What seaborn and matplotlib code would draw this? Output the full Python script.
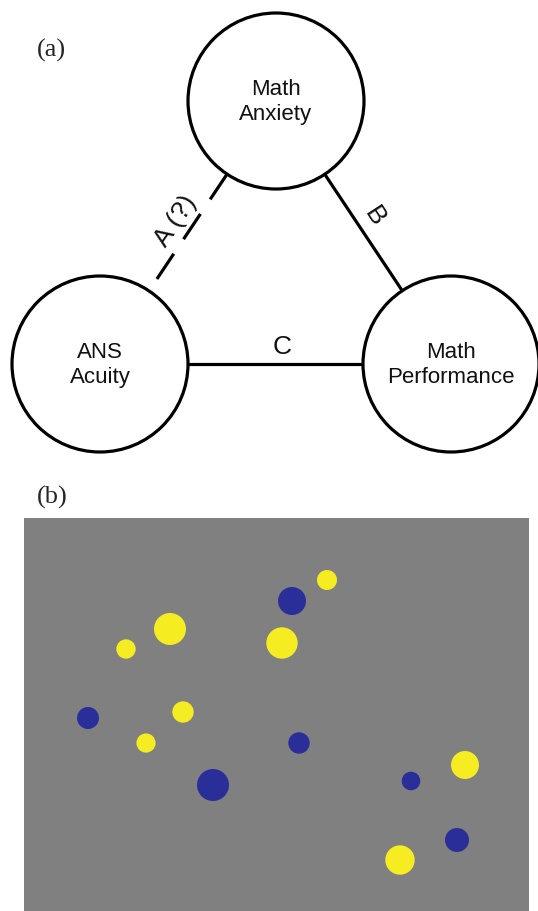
"""
two-panel figure: (a) triangle of constructs, (b) dot-array stimulus
"""
import matplotlib
matplotlib.use("Agg")
import matplotlib.pyplot as plt
import numpy as np
import pandas as pd
import seaborn as sns

sns.set_theme(style="white")
plt.rcParams["font.family"] = ["Liberation Sans", "DejaVu Sans"]

# panel (a): nodes (pixel coordinates of the original figure) and edges
node_labels = ["Math\nAnxiety", "ANS\nAcuity", "Math\nPerformance"]
node_x = [276, 100, 451]
node_y = [101, 364, 364]
node_radius = 88
edges = [(0, 1), (0, 2), (1, 2)]
edge_labels = ["A (?)", "B", "C"]
edge_dashed = [True, False, False]
edge_label_x = [176, 375, 282]
edge_label_y = [221, 217, 347]
edge_label_rot = [56, -57, 0]

# panel (b): dots of the stimulus
dot_x = [327, 292, 170, 126, 282, 88, 183, 146, 299, 213, 411, 465, 457, 400]
dot_y = [580, 601, 629, 649, 643, 718, 712, 743, 743, 785, 781, 765, 840, 860]
dot_r = [10, 14, 16, 9.7, 15.7, 11, 10.7, 9.6, 10.7, 16, 9.3, 14, 12, 14.7]
dot_color = ["yellow", "blue", "yellow", "yellow", "yellow", "blue", "yellow",
             "yellow", "blue", "blue", "blue", "yellow", "blue", "yellow"]

W, H = 538, 911
fig = plt.figure(figsize=(W / 100, H / 100), dpi=100)

# top panel drawn in pixel coordinates
ax = fig.add_axes([0, 0, 1, 1])
ax.set_xlim(0, W)
ax.set_ylim(H, 0)
ax.axis("off")

lw = 2.3
for x, y, lab in zip(node_x, node_y, node_labels):
    ax.add_patch(plt.Circle((x, y), node_radius, fill=False, lw=lw, color="black"))
    ax.text(x, y + 1, lab, ha="center", va="center", fontsize=16,
            linespacing=1.25, color="#111111")

for (i, j), dashed in zip(edges, edge_dashed):
    p0 = np.array([node_x[i], node_y[i]], float)
    p1 = np.array([node_x[j], node_y[j]], float)
    u = (p1 - p0) / np.linalg.norm(p1 - p0)
    a = p0 + u * node_radius
    b = p1 - u * node_radius
    ls = (0, (9.5, 5.5)) if dashed else "-"
    ax.plot([a[0], b[0]], [a[1], b[1]], color="black", lw=lw, linestyle=ls,
            solid_capstyle="butt", dash_capstyle="butt")

for x, y, lab, rot in zip(edge_label_x, edge_label_y, edge_labels, edge_label_rot):
    ax.text(x, y, lab, ha="center", va="center", fontsize=19, rotation=rot,
            rotation_mode="anchor", color="#111111")

ax.text(37, 50, "(a)", ha="left", va="center", fontsize=19,
        family="Liberation Serif")
ax.text(37, 497, "(b)", ha="left", va="center", fontsize=19,
        family="Liberation Serif")

# bottom panel: gray stimulus box
left, right, top = 24, 529, 518
axb = fig.add_axes([left / W, 0, (right - left) / W, (H - top) / H])
axb.set_facecolor("#808080")
axb.set_xlim(left, right)
axb.set_ylim(H, top)
axb.set_xticks([])
axb.set_yticks([])
for s in axb.spines.values():
    s.set_visible(False)

dots = pd.DataFrame({"x": dot_x, "y": dot_y, "r": dot_r, "color": dot_color})
# radius in px -> marker area in pt^2 (dpi 100)
sizes = (2 * dots["r"] * 72 / 100) ** 2
sns.scatterplot(data=dots, x="x", y="y", hue="color",
                palette={"yellow": "#f6ec22", "blue": "#2a2e98"},
                s=sizes.values, linewidth=0, legend=False, ax=axb)
axb.set_xlabel("")
axb.set_ylabel("")

fig.savefig("out.png", dpi=100)
